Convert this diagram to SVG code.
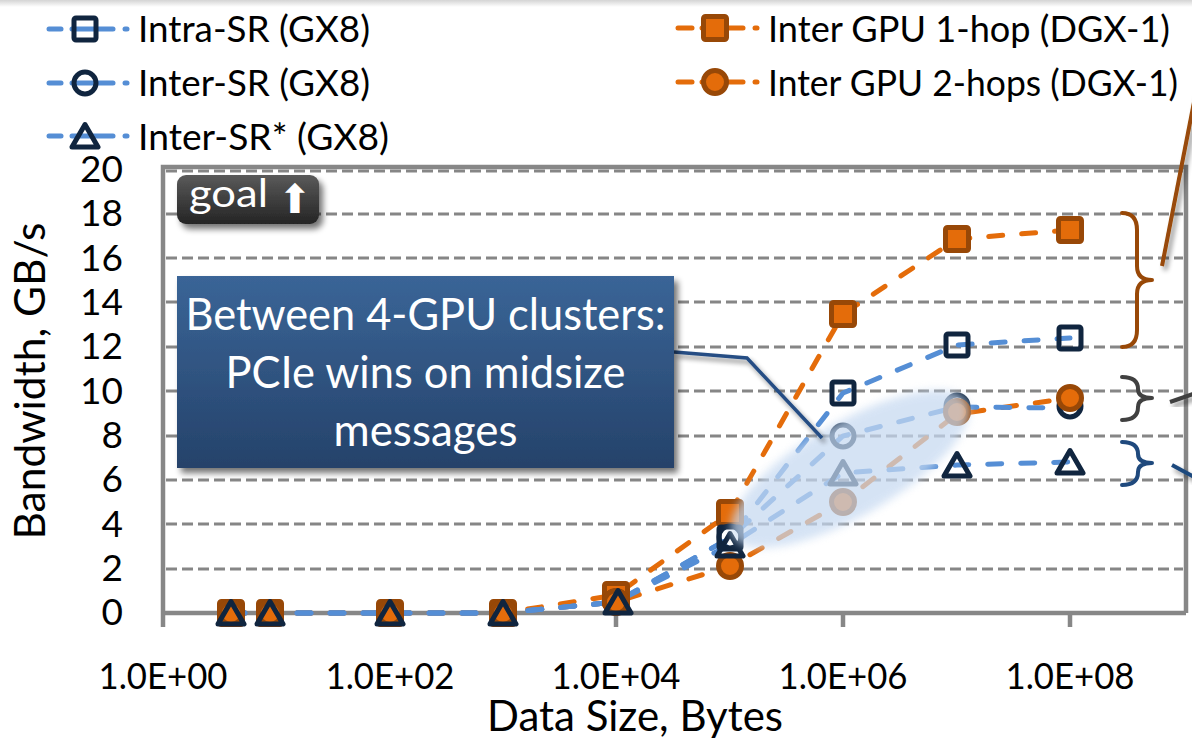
<svg xmlns="http://www.w3.org/2000/svg" xmlns:xlink="http://www.w3.org/1999/xlink" width="1192" height="740" viewBox="0 0 1192 740">
<style>
text{font-family:Lato,"Open Sans","DejaVu Sans",sans-serif;fill:#000}
.lbl{font-size:37px}
.ylbl{font-size:37px;text-anchor:end}
.xlbl{font-size:36px;text-anchor:middle}
.title{font-size:42px;text-anchor:middle}
.grid{stroke:#868686;stroke-width:3;stroke-dasharray:11 5;fill:none}
.frame{stroke:#878787;stroke-width:4.5;fill:none}
.lb{stroke:#558ed5;stroke-width:5;stroke-linecap:round;fill:none;stroke-dasharray:14 19}
.lo{stroke:#e46c0a;stroke-width:5;stroke-linecap:round;fill:none;stroke-dasharray:14 19}
.legb{stroke:#558ed5;stroke-width:5;stroke-linecap:round}
.lego{stroke:#e46c0a;stroke-width:5;stroke-linecap:round}
.call{font-size:45px;fill:#fff;text-anchor:middle}
.brace{fill:none;stroke-width:4;stroke-linecap:round;stroke-linejoin:round}
</style>
<defs>
<linearGradient id="topg" x1="0" y1="0" x2="0" y2="1"><stop offset="0" stop-color="#d4d4d4"/><stop offset="1" stop-color="#ffffff"/></linearGradient>
<linearGradient id="callg" x1="0" y1="0" x2="0" y2="1"><stop offset="0" stop-color="#3a6597"/><stop offset="1" stop-color="#25426a"/></linearGradient>
<linearGradient id="goalg" x1="0" y1="0" x2="0" y2="1"><stop offset="0" stop-color="#5a5a5a"/><stop offset="1" stop-color="#242424"/></linearGradient>
<filter id="shadow" x="-20%" y="-20%" width="140%" height="150%"><feGaussianBlur in="SourceAlpha" stdDeviation="3"/><feOffset dx="4" dy="5" result="b"/><feComponentTransfer><feFuncA type="linear" slope="0.55"/></feComponentTransfer><feMerge><feMergeNode/><feMergeNode in="SourceGraphic"/></feMerge></filter>
<filter id="lshadow" x="-50%" y="-50%" width="200%" height="200%"><feGaussianBlur in="SourceAlpha" stdDeviation="2.5"/><feOffset dx="3" dy="4"/><feComponentTransfer><feFuncA type="linear" slope="0.45"/></feComponentTransfer><feMerge><feMergeNode/><feMergeNode in="SourceGraphic"/></feMerge></filter>
<filter id="soft" x="-30%" y="-60%" width="160%" height="220%"><feGaussianBlur stdDeviation="4"/></filter>
<g id="mSqN"><rect x="-11" y="-11" width="22" height="22" rx="2" fill="none" stroke="#10253f" stroke-width="5"/></g>
<g id="mCiN"><circle r="11" fill="none" stroke="#10253f" stroke-width="5"/></g>
<g id="mTrN"><path d="M0,-12.5 L13,10 L-13,10 Z" fill="none" stroke="#10253f" stroke-width="5" stroke-linejoin="round"/></g>
<g id="mSqO"><rect x="-11.5" y="-11.5" width="23" height="23" rx="2" fill="#e46c0a" stroke="#984807" stroke-width="5"/></g>
<g id="mCiO"><circle r="11.5" fill="#e46c0a" stroke="#984807" stroke-width="5"/></g>
</defs>
<rect width="1192" height="740" fill="#fff"/>
<rect x="0" y="0" width="1192" height="7" fill="url(#topg)"/>

<g id="legend">
<g id="leg-intra">
<line class="legb" x1="49" y1="29" x2="61" y2="29"/><line class="legb" x1="72" y1="29" x2="113" y2="29"/><line class="legb" x1="125" y1="29" x2="127" y2="29"/>
<use xlink:href="#mSqN" x="85" y="29"/>
<text class="lbl" x="138" y="42" textLength="232" lengthAdjust="spacingAndGlyphs">Intra-SR (GX8)</text>
</g>
<g id="leg-inter">
<line class="legb" x1="49" y1="83" x2="61" y2="83"/><line class="legb" x1="72" y1="83" x2="113" y2="83"/><line class="legb" x1="125" y1="83" x2="127" y2="83"/>
<use xlink:href="#mCiN" x="85" y="83"/>
<text class="lbl" x="138" y="96" textLength="232" lengthAdjust="spacingAndGlyphs">Inter-SR (GX8)</text>
</g>
<g id="leg-interstar">
<line class="legb" x1="49" y1="136" x2="61" y2="136"/><line class="legb" x1="72" y1="136" x2="113" y2="136"/><line class="legb" x1="125" y1="136" x2="127" y2="136"/>
<use xlink:href="#mTrN" x="85" y="137"/>
<text class="lbl" x="138" y="150" textLength="251" lengthAdjust="spacingAndGlyphs">Inter-SR* (GX8)</text>
</g>
<g id="leg-1hop">
<line class="lego" x1="678" y1="28" x2="692" y2="28"/><line class="lego" x1="702" y1="28" x2="743" y2="28"/><line class="lego" x1="755" y1="28" x2="757" y2="28"/>
<use xlink:href="#mSqO" x="715" y="28"/>
<text class="lbl" x="768" y="42" textLength="402" lengthAdjust="spacingAndGlyphs">Inter GPU 1-hop (DGX-1)</text>
</g>
<g id="leg-2hop">
<line class="lego" x1="678" y1="82" x2="692" y2="82"/><line class="lego" x1="702" y1="82" x2="743" y2="82"/><line class="lego" x1="755" y1="82" x2="757" y2="82"/>
<use xlink:href="#mCiO" x="715" y="82"/>
<text class="lbl" x="768" y="96" textLength="410" lengthAdjust="spacingAndGlyphs">Inter GPU 2-hops (DGX-1)</text>
</g>
</g>

<g id="grid">
<line class="grid" x1="166" y1="171" x2="1183" y2="171"/>
<line class="grid" x1="166" y1="214" x2="1183" y2="214"/>
<line class="grid" x1="166" y1="258" x2="1183" y2="258"/>
<line class="grid" x1="166" y1="302" x2="1183" y2="302"/>
<line class="grid" x1="166" y1="347" x2="1183" y2="347"/>
<line class="grid" x1="166" y1="391" x2="1183" y2="391"/>
<line class="grid" x1="166" y1="436" x2="1183" y2="436"/>
<line class="grid" x1="166" y1="480" x2="1183" y2="480"/>
<line class="grid" x1="166" y1="524" x2="1183" y2="524"/>
<line class="grid" x1="166" y1="569" x2="1183" y2="569"/>
</g>
<g id="axes">
<path class="frame" d="M163,627 V167 H1186 V613"/>
<line class="frame" x1="163" y1="613" x2="1186" y2="613"/>
<line class="frame" x1="390" y1="613" x2="390" y2="627"/>
<line class="frame" x1="616" y1="613" x2="616" y2="627"/>
<line class="frame" x1="843" y1="613" x2="843" y2="627"/>
<line class="frame" x1="1070" y1="613" x2="1070" y2="627"/>
<text class="ylbl" x="123" y="182">20</text>
<text class="ylbl" x="123" y="226">18</text>
<text class="ylbl" x="123" y="271">16</text>
<text class="ylbl" x="123" y="315">14</text>
<text class="ylbl" x="123" y="359">12</text>
<text class="ylbl" x="123" y="404">10</text>
<text class="ylbl" x="123" y="448">8</text>
<text class="ylbl" x="123" y="492">6</text>
<text class="ylbl" x="123" y="537">4</text>
<text class="ylbl" x="123" y="581">2</text>
<text class="ylbl" x="123" y="625">0</text>
<text class="xlbl" x="163" y="689" textLength="129" lengthAdjust="spacingAndGlyphs">1.0E+00</text>
<text class="xlbl" x="390" y="689" textLength="129" lengthAdjust="spacingAndGlyphs">1.0E+02</text>
<text class="xlbl" x="616" y="689" textLength="129" lengthAdjust="spacingAndGlyphs">1.0E+04</text>
<text class="xlbl" x="843" y="689" textLength="129" lengthAdjust="spacingAndGlyphs">1.0E+06</text>
<text class="xlbl" x="1070" y="689" textLength="129" lengthAdjust="spacingAndGlyphs">1.0E+08</text>
<text class="title" x="635" y="731" textLength="296" lengthAdjust="spacingAndGlyphs">Data Size, Bytes</text>
<text class="title" transform="translate(45,381) rotate(-90)" x="0" y="0" textLength="317" lengthAdjust="spacingAndGlyphs">Bandwidth, GB/s</text>
</g>

<g id="series-lines">
<polyline id="line-1hop" class="lo" points="231,613 270,613 390,613 503,613 616,595 730,513 843,314 957,239 1070,230"/>
<polyline id="line-2hop" class="lo" points="231,613 270,613 390,613 503,613 616,602 730,566 843,502 957,414 1070,398"/>
<polyline id="line-intra" class="lb" points="231,613 270,613 390,613 503,613 616,602 730,538 843,393 957,345 1070,338"/>
<polyline id="line-inter" class="lb" points="231,613 270,613 390,613 503,613 616,602 730,538 843,436 957,407 1070,408"/>
<polyline id="line-interstar" class="lb" points="231,613 270,613 390,613 503,613 616,602 730,545 843,473 957,465 1070,462"/>
</g>

<g id="markers-1hop">
<use xlink:href="#mSqO" x="231" y="613"/><use xlink:href="#mSqO" x="270" y="613"/><use xlink:href="#mSqO" x="390" y="613"/><use xlink:href="#mSqO" x="503" y="613"/><use xlink:href="#mSqO" x="616" y="595"/><use xlink:href="#mSqO" x="730" y="513"/><use xlink:href="#mSqO" x="843" y="314"/><use xlink:href="#mSqO" x="957" y="239"/><use xlink:href="#mSqO" x="1070" y="230"/>
</g>
<g id="markers-intra">
<use xlink:href="#mSqN" x="730" y="538"/><use xlink:href="#mSqN" x="843" y="393"/><use xlink:href="#mSqN" x="957" y="345"/><use xlink:href="#mSqN" x="1070" y="338"/>
</g>
<g id="markers-inter">
<use xlink:href="#mCiN" x="231" y="613"/><use xlink:href="#mCiN" x="270" y="613"/><use xlink:href="#mCiN" x="390" y="613"/><use xlink:href="#mCiN" x="503" y="613"/><use xlink:href="#mCiN" x="616" y="602"/><use xlink:href="#mCiN" x="730" y="537"/><use xlink:href="#mCiN" x="843" y="436"/><use xlink:href="#mCiN" x="957" y="406"/><use xlink:href="#mCiN" x="1070" y="406"/>
</g>
<g id="markers-2hop">
<use xlink:href="#mCiO" x="231" y="613"/><use xlink:href="#mCiO" x="270" y="613"/><use xlink:href="#mCiO" x="390" y="613"/><use xlink:href="#mCiO" x="503" y="613"/><use xlink:href="#mCiO" x="616" y="602"/><use xlink:href="#mCiO" x="730" y="566"/><use xlink:href="#mCiO" x="843" y="502"/><use xlink:href="#mCiO" x="957" y="412"/><use xlink:href="#mCiO" x="1070" y="398"/>
</g>
<g id="markers-interstar">
<use xlink:href="#mTrN" x="231" y="614"/><use xlink:href="#mTrN" x="270" y="614"/><use xlink:href="#mTrN" x="390" y="614"/><use xlink:href="#mTrN" x="503" y="614"/><use xlink:href="#mTrN" x="618" y="603"/><use xlink:href="#mTrN" x="730" y="546"/><use xlink:href="#mTrN" x="843" y="474"/><use xlink:href="#mTrN" x="957" y="466"/><use xlink:href="#mTrN" x="1070" y="463"/>
</g>

<g id="highlight">
<ellipse cx="850" cy="469" rx="135" ry="47" transform="rotate(-30 850 469)" fill="#c6d9f1" opacity="0.72" filter="url(#soft)"/>
</g>

<g id="connectors">
<polyline points="674,352 747,358 822,438" fill="none" stroke="#254e84" stroke-width="3.5" filter="url(#lshadow)"/>
<line x1="1162" y1="266" x2="1196" y2="92" stroke="#984807" stroke-width="4" filter="url(#lshadow)"/>
<line x1="1170" y1="402" x2="1196" y2="393" stroke="#404040" stroke-width="4" filter="url(#lshadow)"/>
<line x1="1172" y1="465" x2="1196" y2="478" stroke="#1f497d" stroke-width="4" filter="url(#lshadow)"/>
</g>

<g id="callout">
<rect x="177" y="276" width="497" height="192" fill="url(#callg)" filter="url(#shadow)"/>
<text class="call" x="425.5" y="330" textLength="480" lengthAdjust="spacingAndGlyphs">Between 4-GPU clusters:</text>
<text class="call" x="425.5" y="388" textLength="400" lengthAdjust="spacingAndGlyphs">PCIe wins on midsize</text>
<text class="call" x="425.5" y="446" textLength="184" lengthAdjust="spacingAndGlyphs">messages</text>
</g>

<g id="goal">
<rect x="177" y="175" width="142" height="49" rx="9" fill="url(#goalg)" filter="url(#shadow)"/>
<text x="189" y="207" style="font-size:38px;fill:#fff" textLength="79" lengthAdjust="spacingAndGlyphs">goal</text>
<text x="295" y="213" style="font-size:40px;fill:#fff;font-family:'DejaVu Sans',sans-serif;text-anchor:middle">⬆</text>
</g>

<g id="braces">
<path class="brace" stroke="#984807" d="M1122,213 Q1137,213 1137,230 L1137,266 Q1137,280 1152,280 Q1137,280 1137,294 L1137,330 Q1137,347 1122,347"/>
<path class="brace" stroke="#404040" d="M1122,377 Q1138,377 1138,389 Q1138,398 1152,398 Q1138,398 1138,407 Q1138,420 1122,420"/>
<path class="brace" stroke="#1f497d" d="M1122,442 Q1138,442 1138,454 Q1138,463 1152,463 Q1138,463 1138,472 Q1138,485 1122,485"/>
</g>
</svg>
